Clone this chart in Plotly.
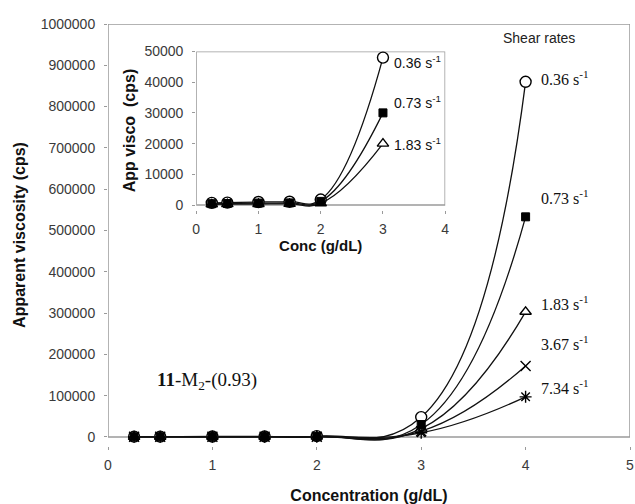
import plotly.graph_objects as go

# ---- data ----
conc = [0.25, 0.5, 1, 1.5, 2, 3, 4]
rate_labels = ["0.36", "0.73", "1.83", "3.67", "7.34"]
visc_036 = [700, 800, 1000, 1100, 1800, 48000, 860000]
visc_073 = [450, 500, 650, 700, 1200, 30000, 533000]
visc_183 = [250, 300, 350, 400, 600, 20000, 303000]
visc_367 = [150, 180, 220, 250, 400, 14000, 172000]
visc_734 = [100, 120, 150, 180, 300, 10000, 97000]
inset_n = 6  # inset shows concentrations up to 3 g/dL, three shear rates

main_y_ticks = [0, 100000, 200000, 300000, 400000, 500000, 600000, 700000, 800000, 900000, 1000000]
main_x_ticks = [0, 1, 2, 3, 4, 5]
inset_y_ticks = [0, 10000, 20000, 30000, 40000, 50000]
inset_x_ticks = [0, 1, 2, 3, 4]

series = [
    (visc_036, dict(symbol="circle", size=11, color="white", line=dict(color="black", width=1.4))),
    (visc_183, dict(symbol="triangle-up", size=10, color="white", line=dict(color="black", width=1.4))),
    (visc_367, dict(symbol="x-thin-open", size=10, color="black", line=dict(color="black", width=1.4))),
    (visc_734, dict(symbol="asterisk-open", size=10, color="black", line=dict(color="black", width=1.4))),
    (visc_073, dict(symbol="square", size=8, color="black", line=dict(color="black", width=1))),
]
inset_series = [series[0], series[1], series[4]]

fig = go.Figure()
for vals, mk in series:
    fig.add_trace(go.Scatter(x=conc, y=vals, mode="lines+markers",
                             line=dict(color="#111", width=1.3, shape="spline", smoothing=1.3),
                             marker=mk, xaxis="x", yaxis="y", showlegend=False, cliponaxis=False))
for vals, mk in inset_series:
    fig.add_trace(go.Scatter(x=conc[:inset_n], y=vals[:inset_n], mode="lines+markers",
                             line=dict(color="#111", width=1.3, shape="spline", smoothing=1.3),
                             marker=mk, xaxis="x2", yaxis="y2", showlegend=False, cliponaxis=False))

sansfam = "Liberation Sans, Arial, sans-serif"
tickfont = dict(family=sansfam, size=14, color="#3a3a3a")
gray = "#9a9a9a"

fig.update_layout(
    width=635, height=504,
    margin=dict(l=108, r=1, t=24, b=58),
    paper_bgcolor="white", plot_bgcolor="white",
    xaxis=dict(domain=[0, 1], range=[0, 5], tickvals=main_x_ticks, tickformat="d", showgrid=False,
               zeroline=False, showline=False, ticks="outside", ticklen=3, tickcolor=gray, tickfont=tickfont,
               ticklabelstandoff=3,
               title=dict(text="<b>Concentration (g/dL)</b>", font=dict(family=sansfam, size=16, color="#111"),
                          standoff=19)),
    yaxis=dict(domain=[0, 1], range=[-22000, 1000000], tickvals=main_y_ticks, tickformat="d", showgrid=False,
               zeroline=False, showline=False, ticks="outside", ticklen=3, tickcolor=gray, tickfont=tickfont,
               ticklabelstandoff=6,
               title=dict(text="<b>Apparent viscosity (cps)</b>", font=dict(family=sansfam, size=16, color="#111"),
                          standoff=11)),
    xaxis2=dict(domain=[0.169, 0.646], range=[0, 4], tickvals=inset_x_ticks, tickformat="d", showgrid=False,
                zeroline=False, showline=False, anchor="y2", ticks="outside", ticklen=3, tickcolor=gray,
                tickfont=tickfont, ticklabelstandoff=4,
                title=dict(text="<b>Conc (g/dL)</b>", font=dict(family=sansfam, size=15, color="#111"),
                           standoff=0)),
    yaxis2=dict(domain=[0.56, 0.935], range=[-1500, 50000], tickvals=inset_y_ticks, tickformat="d",
                showgrid=False, zeroline=False, showline=False, anchor="x2", ticks="outside", ticklen=3,
                tickcolor=gray, tickfont=tickfont, ticklabelstandoff=6,
                title=dict(text="<b>App visco  (cps)</b>", font=dict(family=sansfam, size=16, color="#111"),
                           standoff=4)),
)

# plot-area frames
fig.add_shape(type="rect", xref="x", yref="y", x0=0, x1=5, y0=0, y1=1000000,
              line=dict(color=gray, width=1.5), layer="below")
fig.add_shape(type="rect", xref="x2", yref="y2", x0=0, x1=4, y0=0, y1=50000,
              line=dict(color=gray, width=1.5), layer="below")

serif = dict(family="Liberation Serif, Times New Roman, serif", size=16, color="#111")
sans = dict(family=sansfam, size=14, color="#111")

main_label_y = [869000, 581000, 324000, 228000, 121000]
for lab, yy in zip(rate_labels, main_label_y):
    fig.add_annotation(x=4.13, y=yy, xref="x", yref="y", text=f"{lab} s<sup>-1</sup>",
                       showarrow=False, xanchor="left", yanchor="middle", font=serif)

inset_label_y = [46400, 33500, 20000]
for lab, yy in zip(rate_labels[:3], inset_label_y):
    fig.add_annotation(x=3.15, y=yy, xref="x2", yref="y2", text=f"{lab} s<sup>-1</sup>",
                       showarrow=False, xanchor="left", yanchor="middle", font=sans)

fig.add_annotation(x=4.13, y=966000, xref="x", yref="y", text="Shear rates", showarrow=False,
                   xanchor="center", yanchor="middle", font=dict(family=sansfam, size=14, color="#222"))
fig.add_annotation(x=0.45, y=136000, xref="x", yref="y", text="<b>11</b>-M<sub>2</sub>-(0.93)",
                   showarrow=False, xanchor="left", yanchor="middle", font=dict(serif, size=19))

fig.write_html("out.html")
